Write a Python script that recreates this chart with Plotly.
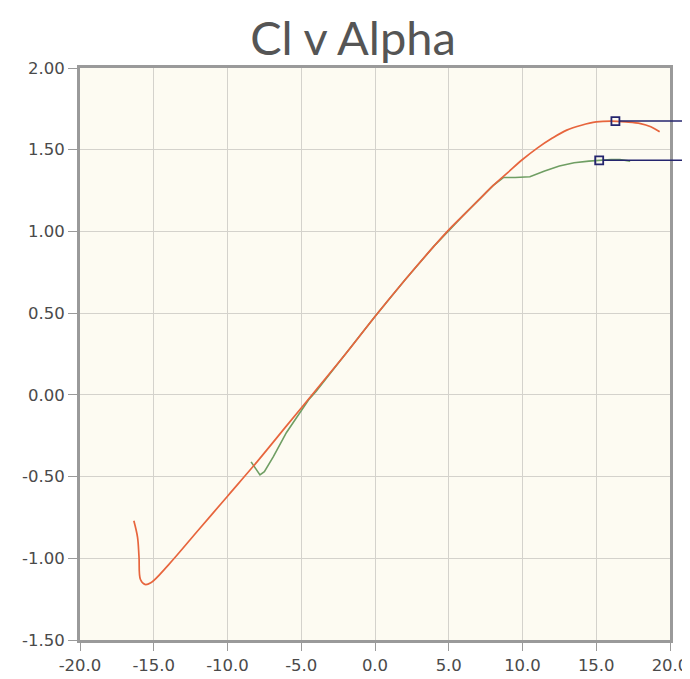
import plotly.graph_objects as go

# Series 1 (orange) - alpha (deg) and Cl
alpha_a = [-16.35, -16.1, -16.0, -15.9, -15.6, -15.2, -14.0, -12.0, -10.0, -8.0, -6.0, -4.0,
           -2.0, 0.0, 2.0, 4.0, 5.0, 6.0, 7.0, 8.0, 9.0, 10.0, 11.0, 12.0, 13.0, 14.0,
           15.0, 16.0, 17.0, 18.0, 18.7, 19.3]
cl_a = [-0.77, -0.87, -0.99, -1.13, -1.16, -1.15, -1.04, -0.83, -0.62, -0.41, -0.19, 0.03,
        0.25, 0.48, 0.70, 0.91, 1.01, 1.10, 1.19, 1.28, 1.36, 1.44, 1.51, 1.57, 1.62, 1.65,
        1.67, 1.675, 1.67, 1.66, 1.64, 1.61]

# Series 2 (green)
alpha_b = [-8.4, -8.1, -7.8, -7.5, -6.9, -6.0, -5.0, -4.5, -4.0, -2.0, 0.0, 2.0, 4.0, 6.0,
           8.0, 8.7, 9.5, 10.5, 11.5, 12.5, 13.5, 14.5, 15.2, 16.0, 16.6, 17.3]
cl_b = [-0.41, -0.45, -0.49, -0.47, -0.38, -0.23, -0.10, -0.03, 0.02, 0.25, 0.48, 0.70, 0.91,
        1.10, 1.28, 1.33, 1.33, 1.335, 1.37, 1.40, 1.42, 1.43, 1.435, 1.44, 1.44, 1.43]

# Highlighted maxima
max_alpha = [16.3, 15.2]
max_cl = [1.675, 1.435]

x_ticks = [-20, -15, -10, -5, 0, 5, 10, 15, 20]
y_ticks = [-1.5, -1.0, -0.5, 0.0, 0.5, 1.0, 1.5, 2.0]
x_range = [-20, 20]
y_range = [-1.5, 2.0]

fig = go.Figure()
fig.add_trace(go.Scatter(x=alpha_b, y=cl_b, mode="lines",
                         line=dict(color="#6f9e63", width=1.6), showlegend=False))
fig.add_trace(go.Scatter(x=alpha_a, y=cl_a, mode="lines", line_shape="spline",
                         line=dict(color="#e7653d", width=1.7), showlegend=False))
fig.add_trace(go.Scatter(x=max_alpha, y=max_cl, mode="markers",
                         marker=dict(symbol="square-open", size=8, color="#25256e",
                                     line=dict(width=1.8, color="#25256e")),
                         showlegend=False))

# callout lines from the maxima towards the right edge
for xa, ya in zip(max_alpha, max_cl):
    px = (xa - x_range[0]) / (x_range[1] - x_range[0])
    py = (ya - y_range[0]) / (y_range[1] - y_range[0])
    fig.add_shape(type="line", xref="paper", yref="paper",
                  x0=px + 0.007, x1=1.2, y0=py, y1=py,
                  line=dict(color="#25256e", width=1.5))

fig.update_layout(
    width=690, height=679,
    paper_bgcolor="white", plot_bgcolor="#fdfbf2",
    margin=dict(l=72, r=28, t=60, b=47),
    title=dict(text="Cl v Alpha", x=0.5, xanchor="center", y=0.955, yanchor="middle",
               font=dict(family="Lato", size=47, color="#555555")),
    font=dict(family="DejaVu Sans", size=16.5, color="#4a4a4a"),
)
fig.update_xaxes(range=x_range, tickvals=x_ticks,
                 ticktext=[f"{v:.1f}" for v in x_ticks], automargin=False,
                 showgrid=True, gridcolor="#d4d2cc", gridwidth=1,
                 showline=True, linecolor="#9a9a9a", linewidth=3, mirror=True,
                 ticks="outside", ticklen=8, tickcolor="#9a9a9a", zeroline=False)
fig.update_yaxes(range=y_range, tickvals=y_ticks,
                 ticktext=[f"{v:.2f}" for v in y_ticks], automargin=False,
                 showgrid=True, gridcolor="#d4d2cc", gridwidth=1,
                 showline=True, linecolor="#9a9a9a", linewidth=3, mirror=True,
                 ticks="outside", ticklen=9, tickcolor="#9a9a9a", zeroline=False)

fig.write_html("out.html")
